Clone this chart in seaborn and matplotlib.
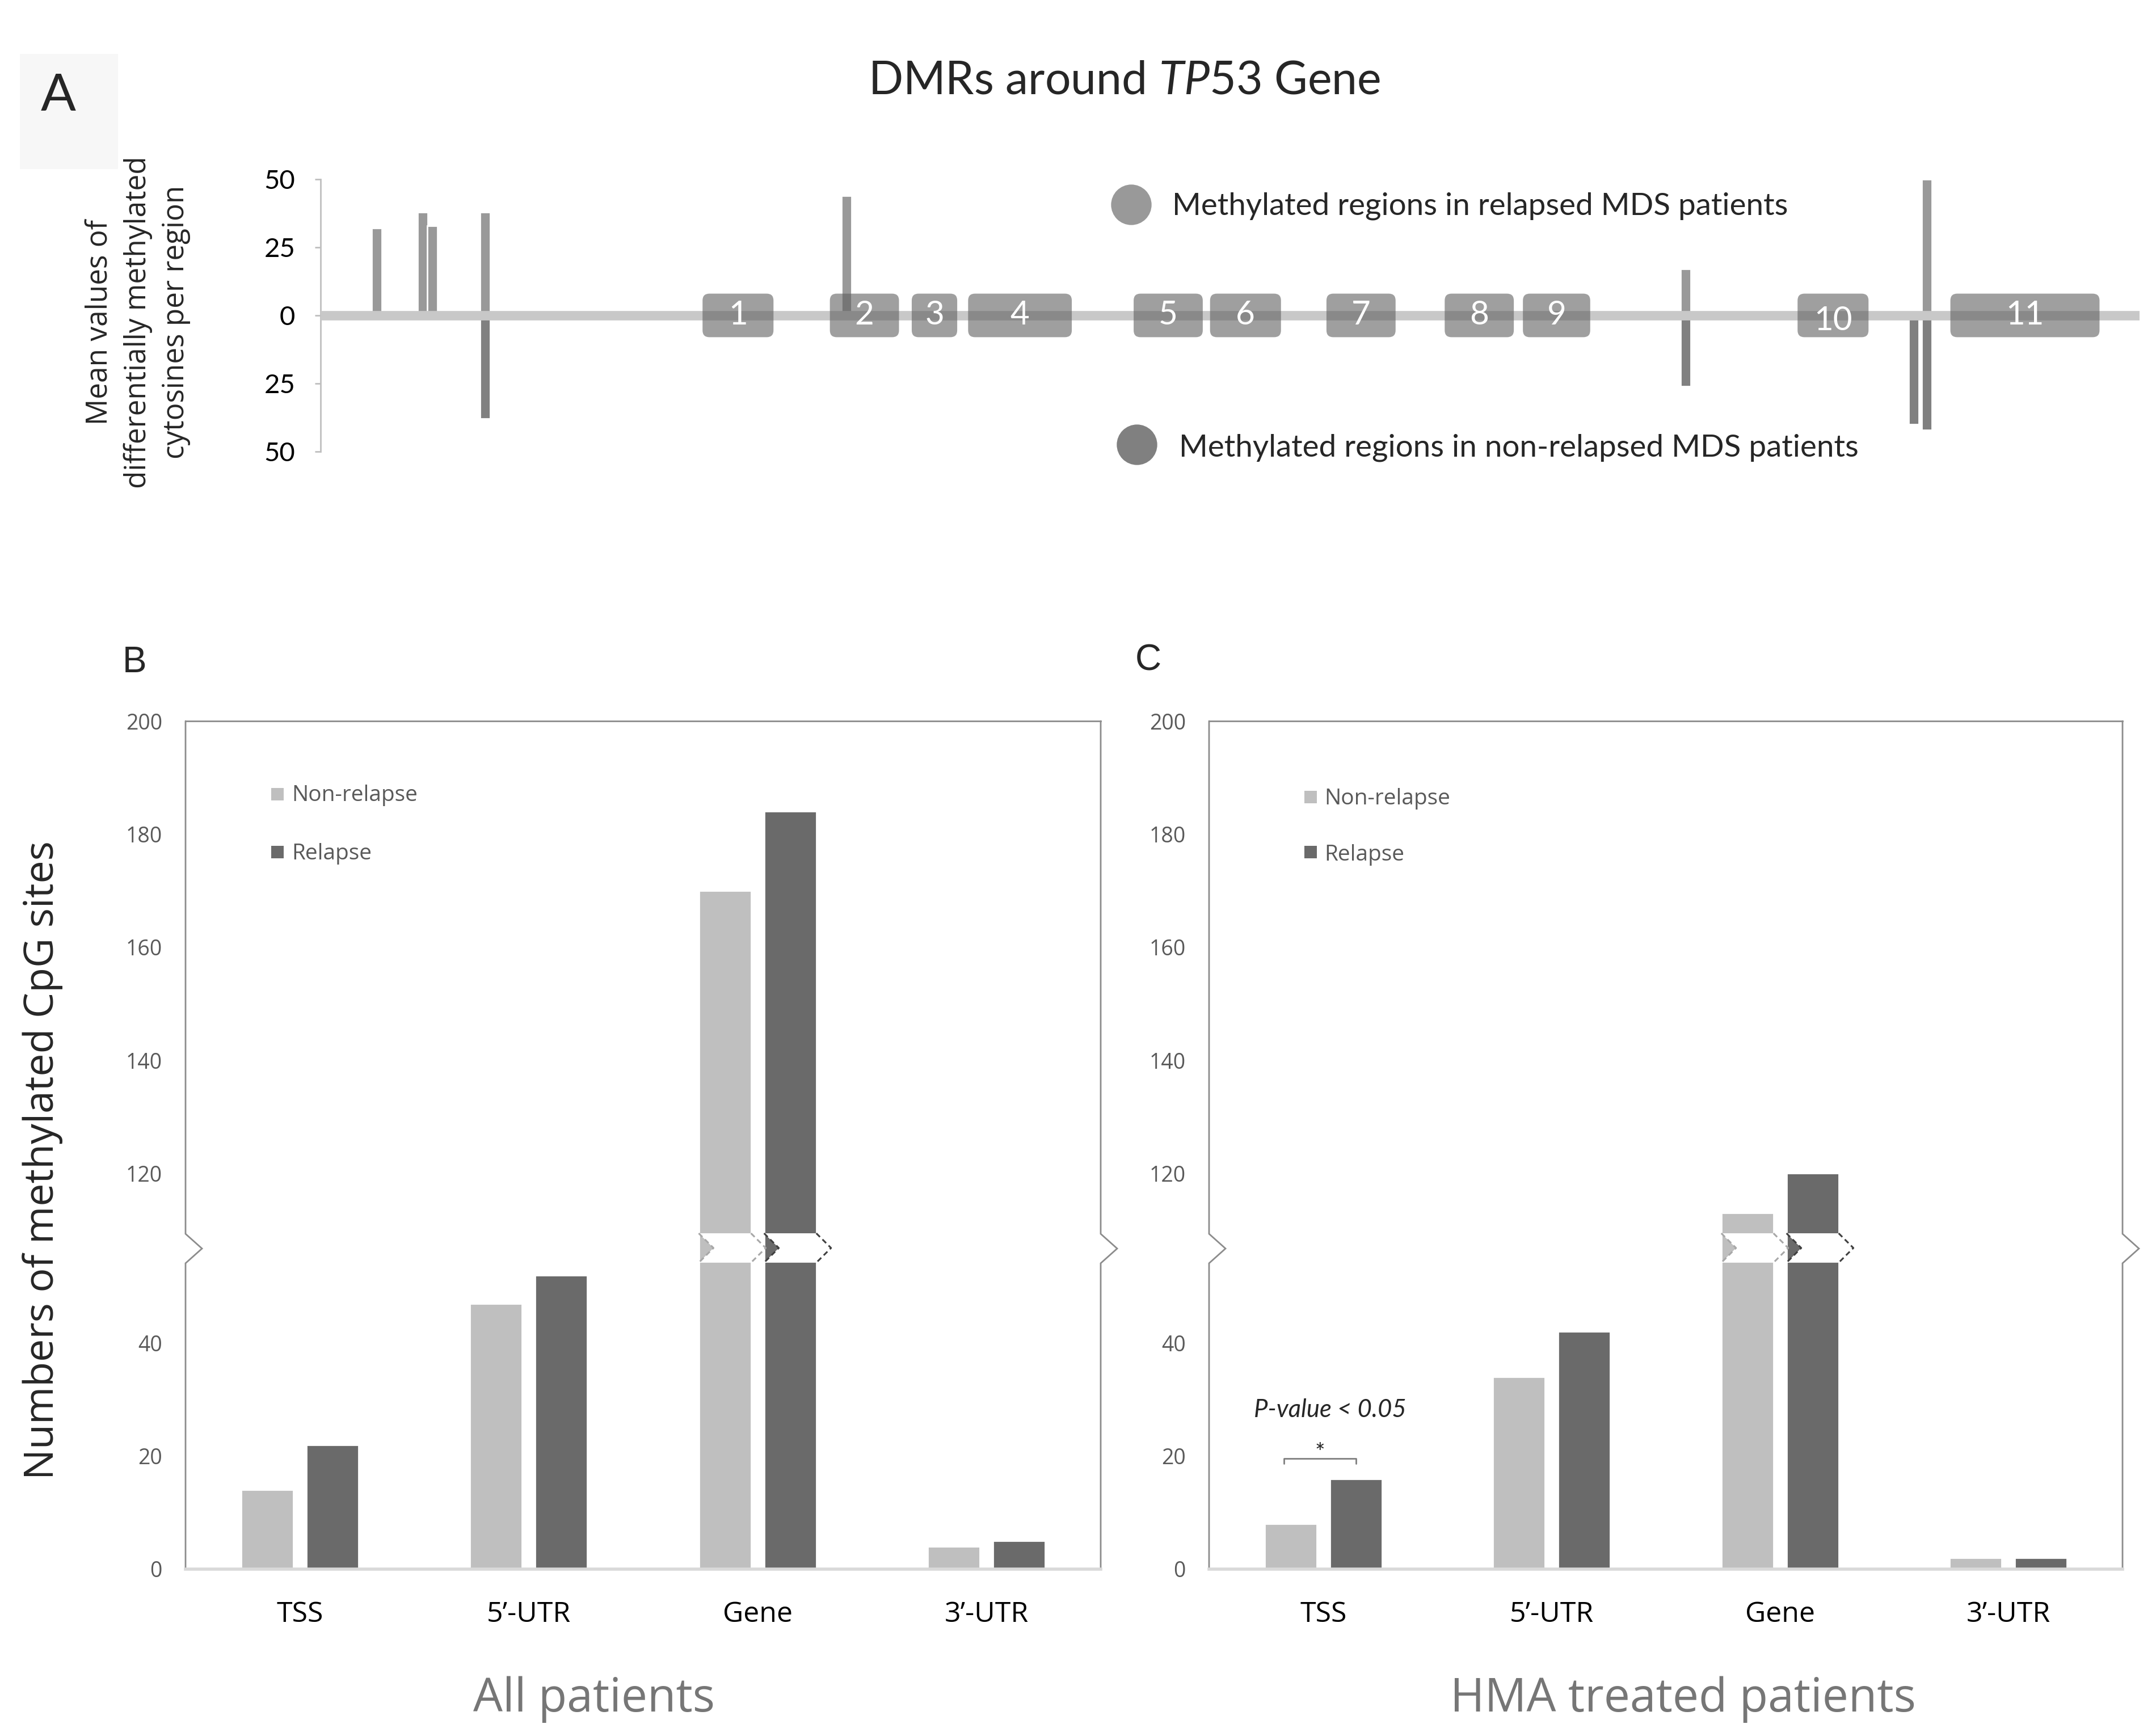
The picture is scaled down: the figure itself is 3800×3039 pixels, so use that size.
import numpy as np
import pandas as pd
import seaborn as sns
import matplotlib.pyplot as plt
import matplotlib.transforms as mtransforms
from matplotlib.patches import FancyBboxPatch, Polygon, Rectangle

# ---- panel A: DMRs around TP53 (x = relative position along the plotted span, %)
dmr_pos = [3.1, 5.6, 6.15, 9.05, 28.9, 75.05, 87.6, 88.3]
dmr_relapsed = [32, 38, 33, 38, 44, 17, 0, 50]
dmr_nonrelapsed = [0, 0, 0, 38, 0, 26, 40, 42]
exon_labels = ['1', '2', '3', '4', '5', '6', '7', '8', '9', '10', '11']
exon_start = [21.0, 28.0, 32.5, 35.6, 44.7, 48.9, 55.3, 61.8, 66.1, 81.2, 89.6]
exon_end = [24.9, 31.8, 35.0, 41.3, 48.5, 52.8, 59.1, 65.6, 69.8, 85.1, 97.8]
a_ticks = [-50, -25, 0, 25, 50]

# ---- panels B and C: methylated CpG sites
regions = ['TSS', '5’-UTR', 'Gene', '3’-UTR']
groups = ['Non-relapse', 'Relapse']
all_nonrelapse = [14, 47, 170, 4]
all_relapse = [22, 52, 184, 5]
hma_nonrelapse = [8, 34, 113, 2]
hma_relapse = [16, 42, 120, 2]
bc_ticks = [0, 20, 40, 120, 140, 160, 180, 200]

W, H = 3800, 3039
c_light, c_dark = '#bfbfbf', '#6a6a6a'

sns.set_style('white')
plt.rcParams['font.family'] = ['Open Sans', 'DejaVu Sans']
plt.rcParams['mathtext.fontset'] = 'custom'
plt.rcParams['mathtext.rm'] = 'Lato'
plt.rcParams['mathtext.it'] = 'Lato:italic'


def fx(px):
    return px / W


def fy(py):
    return 1 - py / H


def to_plot(v):
    # broken y axis: values above the break are shifted down by 50
    return v if v < 60 else v - 50


fig = plt.figure(figsize=(W / 200, H / 200), dpi=200)

# faint box behind the "A"
fig.add_artist(Rectangle((fx(36), fy(296)), fx(170), 200 / H, transform=fig.transFigure,
                         color='#f7f7f7', zorder=0))

# ================= panel A =================
ax_a = fig.add_axes([fx(565), fy(796), fx(3771 - 565), (796 - 316) / H])
ax_a.bar(dmr_pos, dmr_relapsed, width=0.56, color='#999999', zorder=2)
ax_a.bar(dmr_pos, [-v for v in dmr_nonrelapsed], width=0.56, color='#808080', zorder=2)
ax_a.axhline(0, color='#c8c8c8', lw=6, zorder=3, solid_capstyle='butt')
for lab, s, e in zip(exon_labels, exon_start, exon_end):
    box = FancyBboxPatch((s, -8), e - s, 16, boxstyle='round,pad=0,rounding_size=0.38',
                         mutation_aspect=6.6, facecolor='#606060', edgecolor='none',
                         alpha=0.6, zorder=4)
    ax_a.add_patch(box)
    dy = -2 if lab == '10' else 0
    ax_a.text((s + e) / 2, dy, lab, ha='center', va='center', color='white',
              fontsize=21, family='Lato', zorder=5)
ax_a.set_xlim(0, 100)
ax_a.set_ylim(-50, 50)
ax_a.set_yticks(a_ticks)
ax_a.set_yticklabels([str(abs(t)) for t in a_ticks])
ax_a.set_xticks([])
for side in ['top', 'right', 'bottom']:
    ax_a.spines[side].set_visible(False)
ax_a.spines['left'].set_color('#bfbfbf')
ax_a.spines['left'].set_linewidth(1.0)
ax_a.tick_params(axis='y', left=True, length=3.6, width=1.0, color='#bfbfbf', pad=12.5,
                 labelsize=17, labelcolor='black')
for t in ax_a.get_yticklabels():
    t.set_fontfamily('Lato')
ax_a.patch.set_alpha(0)

fig.text(fx(243), fy(568), 'Mean values of\ndifferentially methylated\ncytosines per region',
         rotation=90, ha='center', va='center', multialignment='center',
         fontsize=18.5, linespacing=1.42, family='Open Sans')
fig.text(fx(1982), fy(165), 'DMRs around $\\mathit{TP53}$ Gene', ha='center', va='baseline',
         fontsize=29, family='Lato')
fig.text(fx(103), fy(195), 'A', ha='center', va='baseline', fontsize=33, family='Lato')

# legend of panel A
ax_a.scatter([fx(1994), fx(2004)], [fy(361), fy(784)], s=660, c=['#999999', '#808080'],
             transform=fig.transFigure, clip_on=False, linewidths=0)
fig.text(fx(2066), fy(379), 'Methylated regions in relapsed MDS patients', ha='left',
         va='baseline', fontsize=19.7, family='Lato')
fig.text(fx(2078), fy(804), 'Methylated regions in non-relapsed MDS patients', ha='left',
         va='baseline', fontsize=19.7, family='Lato')


# ================= panels B and C =================
def bar_panel(ax, nonrel, rel):
    df = pd.DataFrame({
        'region': regions * 2,
        'group': [groups[0]] * len(regions) + [groups[1]] * len(regions),
        'count': nonrel + rel,
    })
    df['pos'] = df['count'].map(to_plot)
    sns.barplot(data=df, x='region', y='pos', hue='group', order=regions, hue_order=groups,
                palette=[c_light, c_dark], saturation=1, width=0.571, gap=0.2,
                errorbar=None, legend=False, ax=ax)
    ax.set_yticks([to_plot(v) for v in bc_ticks])
    ax.set_yticklabels([str(v) for v in bc_ticks])
    ax.set_xlabel('')
    ax.set_ylabel('')
    ax.tick_params(axis='y', length=0, pad=14.8, labelsize=13.5, labelcolor='#595959')
    ax.tick_params(axis='x', length=0, pad=20, labelsize=18, labelcolor='black')

    # frame with break chevrons on both sides
    ax.spines['left'].set_visible(False)
    ax.spines['right'].set_visible(False)
    ax.spines['top'].set_color('#8c8c8c')
    ax.spines['top'].set_linewidth(1.0)
    ax.spines['bottom'].set_color('#d9d9d9')
    ax.spines['bottom'].set_linewidth(2.0)
    tr = mtransforms.blended_transform_factory(ax.transAxes, ax.transData)
    d = 0.018
    for x0 in (0, 1):
        ax.plot([x0, x0, x0 + d, x0, x0], [0, 54.1, 56.7, 59.3, 150], color='#8c8c8c',
                lw=1.0, transform=tr, clip_on=False, solid_joinstyle='miter')

    # white chevron bands on bars that cross the break
    dx = 0.0645
    for p in list(ax.patches):
        top = p.get_y() + p.get_height()
        if top <= 59.5:
            continue
        x0 = p.get_x()
        x1 = x0 + p.get_width()
        band = Polygon([(x0, 59.4), (x1, 59.4), (x1 + dx, 56.8), (x1, 54.2), (x0, 54.2),
                        (x0 + dx, 56.8)], closed=True, facecolor='white', edgecolor='none',
                       zorder=5)
        ax.add_patch(band)
        fc = p.get_facecolor()
        ec = '#a8a8a8' if fc[0] > 0.5 else '#404040'
        for xe in (x0, x1):
            ax.plot([xe, xe + dx, xe], [59.4, 56.8, 54.2], color=ec, lw=1.1,
                    ls=(0, (3, 2)), zorder=6)
    ax.set_xlim(-0.5, len(regions) - 0.5)
    ax.set_ylim(0, 150)


ax_b = fig.add_axes([fx(327), fy(2766), fx(1940 - 327), (2766 - 1271) / H])
bar_panel(ax_b, all_nonrelapse, all_relapse)
ax_c = fig.add_axes([fx(2131), fy(2766), fx(3741 - 2131), (2766 - 1271) / H])
bar_panel(ax_c, hma_nonrelapse, hma_relapse)

# legends of B and C
for ax, sq_x, txt_x, ys, bases in [(ax_b, 489, 514, (1400, 1502), (1412, 1515)),
                                   (ax_c, 2310, 2334, (1405, 1502), (1418, 1517))]:
    ax.scatter([fx(sq_x)] * 2, [fy(ys[0]), fy(ys[1])], marker='s', s=66,
               c=[c_light, c_dark], transform=fig.transFigure, clip_on=False, linewidths=0)
    for g, b in zip(groups, bases):
        fig.text(fx(txt_x), fy(b), g, ha='left', va='baseline', fontsize=14, color='#595959')

# significance mark in C (TSS)
nr_bar = [p for p in ax_c.patches if p.get_facecolor()[0] > 0.5][0]
r_bar = [p for p in ax_c.patches if p.get_facecolor()[0] <= 0.5][0]
xa = nr_bar.get_x() + nr_bar.get_width() / 2 - 0.03
xb = r_bar.get_x() + r_bar.get_width() / 2
ax_c.plot([xa, xa, xb, xb], [18.7, 19.6, 19.6, 18.7], color='#7f7f7f', lw=1.0)
ax_c.text((xa + xb) / 2, 19.3, '*', ha='center', va='baseline', fontsize=15, family='Lato')
ax_c.text(0.03, 26.9, 'P-value < 0.05', ha='center', va='baseline', fontsize=15.7,
          family='Lato', style='italic')
ax_c.set_xlim(-0.5, len(regions) - 0.5)

fig.text(fx(75), fy(2045), 'Numbers of methylated CpG sites', rotation=90, ha='center',
         va='center', fontsize=25.8)
fig.text(fx(1047), fy(3017), 'All patients', ha='center', va='baseline', fontsize=29.6,
         color='#767676')
fig.text(fx(2966), fy(3017), 'HMA treated patients', ha='center', va='baseline', fontsize=29.6,
         color='#767676')
fig.text(fx(237), fy(1185), 'B', ha='center', va='baseline', fontsize=23,
         family='Liberation Sans')
fig.text(fx(2024), fy(1182), 'C', ha='center', va='baseline', fontsize=23,
         family='Liberation Sans')

fig.savefig('out.png', dpi=200, facecolor='white')
